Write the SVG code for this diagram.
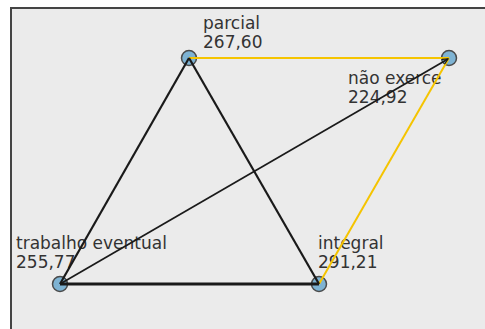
<svg xmlns="http://www.w3.org/2000/svg" width="485" height="329" viewBox="0 0 485 329">
<style>
.lbl{font-family:"DejaVu Sans",sans-serif;font-size:17px;fill:#333}
.blk{stroke:#1a1a1a;stroke-width:2.2;fill:none}
.yel{stroke:#f5c400;stroke-width:2;fill:none}
.node{fill:#7eb3d3;stroke:#4a4a4a;stroke-width:1.5}
</style>
<defs>
<marker id="arr" viewBox="0 0 10 10" refX="9" refY="5" markerWidth="7" markerHeight="7" markerUnits="userSpaceOnUse" orient="auto">
<path d="M1,1 L9,5 L1,9" fill="none" stroke="#1a1a1a" stroke-width="1.6"/>
</marker>
</defs>
<rect x="0" y="0" width="485" height="329" fill="#fff"/>
<rect x="11" y="8" width="480" height="330" fill="#ebebeb" stroke="#444" stroke-width="2"/>
<g id="parcial"><circle class="node" cx="189" cy="58" r="7.5"/><text class="lbl" x="203" y="29">parcial</text><text class="lbl" x="203" y="48">267,60</text></g>
<g id="nao-exerce"><circle class="node" cx="449" cy="58" r="7.5"/><text class="lbl" x="348" y="84">não exerce</text><text class="lbl" x="348" y="103">224,92</text></g>
<g id="trabalho-eventual"><circle class="node" cx="60" cy="284" r="7.5"/><text class="lbl" x="16" y="249">trabalho eventual</text><text class="lbl" x="16" y="268">255,77</text></g>
<g id="integral"><circle class="node" cx="319" cy="284" r="7.5"/><text class="lbl" x="318" y="249">integral</text><text class="lbl" x="318" y="268">291,21</text></g>
<g id="connectors">
<line class="yel" x1="189" y1="58" x2="449" y2="58"/>
<line class="yel" x1="449" y1="58" x2="319" y2="284"/>
<line class="blk" x1="189" y1="58" x2="60" y2="284"/>
<line class="blk" x1="189" y1="58" x2="319" y2="284"/>
<line class="blk" x1="60" y1="284" x2="319" y2="284" style="stroke-width:2.8"/>
<line class="blk" x1="60" y1="284" x2="448" y2="59" style="stroke-width:1.7" marker-end="url(#arr)"/>
</g>
</svg>
